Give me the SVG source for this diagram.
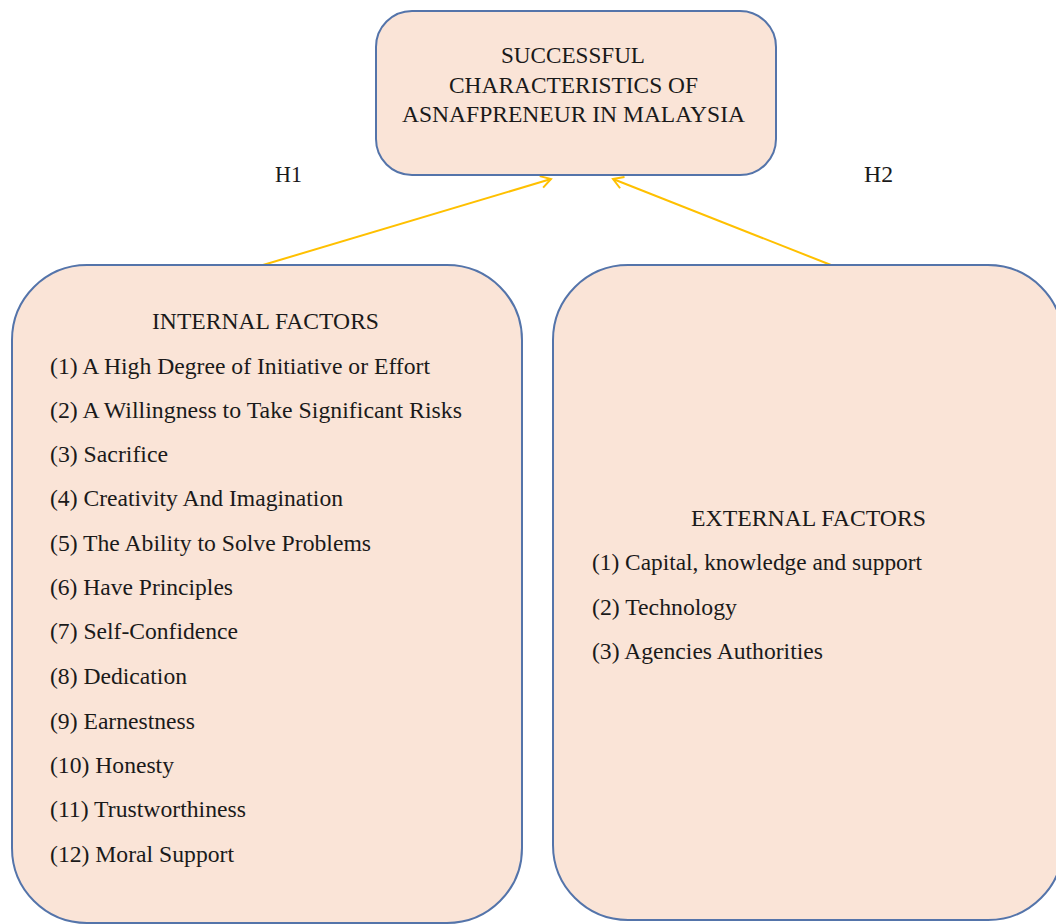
<svg xmlns="http://www.w3.org/2000/svg" width="1056" height="924" viewBox="0 0 1056 924" font-family="Liberation Serif, Times New Roman, serif">
<style>
.box{fill:#fae4d7;stroke:#5474aa;stroke-width:2}
.t{font-family:'Liberation Serif','Times New Roman',Tinos,serif;font-size:23px;fill:#1a1a1a}
.conn{stroke:#ffc000;stroke-width:2;fill:none}
</style>
<defs>
<marker id="open" markerWidth="14" markerHeight="14" refX="11" refY="7" orient="auto" markerUnits="userSpaceOnUse">
<path d="M1,1 L11,7 L1,13" fill="none" stroke="#ffc000" stroke-width="2"/>
</marker>
</defs>
<rect width="1056" height="924" fill="#ffffff"/>
<g id="connectors">
<line class="conn" x1="263" y1="265" x2="551" y2="179" marker-end="url(#open)"/>
<line class="conn" x1="831" y1="265" x2="613" y2="179" marker-end="url(#open)"/>
<text class="t" x="275" y="182" textLength="27" lengthAdjust="spacingAndGlyphs">H1</text>
<text class="t" x="864" y="182" textLength="29" lengthAdjust="spacingAndGlyphs">H2</text>
</g>
<g id="top">
<rect class="box" x="376" y="11" width="400" height="164" rx="36" ry="36"/>
<text class="t" x="501" y="63" textLength="144" lengthAdjust="spacingAndGlyphs">SUCCESSFUL</text>
<text class="t" x="449" y="93" textLength="249" lengthAdjust="spacingAndGlyphs">CHARACTERISTICS OF</text>
<text class="t" x="402" y="122" textLength="343" lengthAdjust="spacingAndGlyphs">ASNAFPRENEUR IN MALAYSIA</text>
</g>
<g id="internal">
<rect class="box" x="12" y="265" width="510" height="658" rx="75" ry="75"/>
<text class="t" x="152" y="329" textLength="227" lengthAdjust="spacingAndGlyphs">INTERNAL FACTORS</text>
<text class="t" x="50" y="374" textLength="380" lengthAdjust="spacingAndGlyphs">(1) A High Degree of Initiative or Effort</text>
<text class="t" x="50" y="418" textLength="412" lengthAdjust="spacingAndGlyphs">(2) A Willingness to Take Significant Risks</text>
<text class="t" x="50" y="462" textLength="118" lengthAdjust="spacingAndGlyphs">(3) Sacrifice</text>
<text class="t" x="50" y="506" textLength="293" lengthAdjust="spacingAndGlyphs">(4) Creativity And Imagination</text>
<text class="t" x="50" y="551" textLength="321" lengthAdjust="spacingAndGlyphs">(5) The Ability to Solve Problems</text>
<text class="t" x="50" y="595" textLength="183" lengthAdjust="spacingAndGlyphs">(6) Have Principles</text>
<text class="t" x="50" y="639" textLength="188" lengthAdjust="spacingAndGlyphs">(7) Self-Confidence</text>
<text class="t" x="50" y="684" textLength="137" lengthAdjust="spacingAndGlyphs">(8) Dedication</text>
<text class="t" x="50" y="729" textLength="145" lengthAdjust="spacingAndGlyphs">(9) Earnestness</text>
<text class="t" x="50" y="773" textLength="124" lengthAdjust="spacingAndGlyphs">(10) Honesty</text>
<text class="t" x="50" y="817" textLength="196" lengthAdjust="spacingAndGlyphs">(11) Trustworthiness</text>
<text class="t" x="50" y="862" textLength="184" lengthAdjust="spacingAndGlyphs">(12) Moral Support</text>
</g>
<g id="external">
<rect class="box" x="553" y="265" width="510" height="655" rx="75" ry="75"/>
<text class="t" x="691" y="526" textLength="235" lengthAdjust="spacingAndGlyphs">EXTERNAL FACTORS</text>
<text class="t" x="592" y="570" textLength="330" lengthAdjust="spacingAndGlyphs">(1) Capital, knowledge and support</text>
<text class="t" x="592" y="615" textLength="145" lengthAdjust="spacingAndGlyphs">(2) Technology</text>
<text class="t" x="592" y="659" textLength="231" lengthAdjust="spacingAndGlyphs">(3) Agencies Authorities</text>
</g>
</svg>
